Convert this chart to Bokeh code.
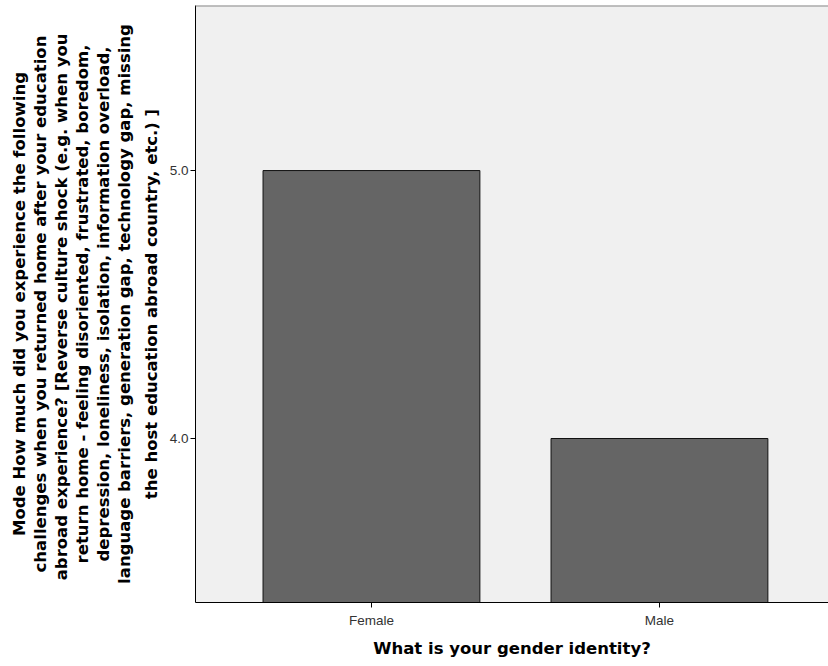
from bokeh.plotting import figure
from bokeh.models import Range1d, FixedTicker, ColumnDataSource, Title, Span
from bokeh.embed import file_html
from bokeh.resources import INLINE

categories = ["Female", "Male"]
values = [5.0, 4.0]
y_ticks = [4.0, 5.0]
y_tick_labels = ["4.0", "5.0"]

x_title = "What is your gender identity?"
y_title_lines = [
    "Mode How much did you experience the following",
    "challenges when you returned home after your education",
    "abroad experience? [Reverse culture shock  (e.g. when you",
    "return home - feeling disoriented, frustrated, boredom,",
    "depression, loneliness, isolation, information overload,",
    "language barriers, generation gap, technology gap, missing",
    "the host education abroad country, etc.) ]",
]

xs = list(range(len(categories)))
src = ColumnDataSource(dict(x=xs, top=values, cat=categories))

p = figure(output_backend="svg", toolbar_location=None,
           frame_width=633, frame_height=597,
           x_range=Range1d(-0.611, 1.587), y_range=Range1d(3.388, 5.616),
           min_border_left=195, min_border_right=0, min_border_top=5,
           min_border_bottom=60)

p.vbar(x="x", top="top", bottom=0, width=0.753, source=src,
       fill_color="#656565", line_color="#111111", line_width=1)

p.background_fill_color = "#f0f0f0"
p.border_fill_color = "white"
p.outline_line_color = None
p.grid.visible = False
p.add_layout(Span(location=p.y_range.end, dimension="width",
                  line_color="#888888", line_width=2))

p.xaxis.ticker = FixedTicker(ticks=xs)
p.xaxis.major_label_overrides = {i: c for i, c in zip(xs, categories)}
p.yaxis.ticker = FixedTicker(ticks=y_ticks)
p.yaxis.major_label_overrides = {t: l for t, l in zip(y_ticks, y_tick_labels)}

for ax in (p.xaxis[0], p.yaxis[0]):
    ax.minor_tick_line_color = None
    ax.major_tick_in = 0
    ax.major_tick_out = 5
    ax.axis_line_color = "black"
    ax.major_tick_line_color = "black"
    ax.major_label_text_font = "Liberation Sans"
    ax.major_label_text_font_size = "13.5px"
    ax.major_label_text_color = "#333333"
    ax.axis_label_text_font = "DejaVu Sans"
    ax.axis_label_text_font_style = "bold"
    ax.axis_label_text_font_size = "16.5px"
    ax.axis_label_text_color = "black"

p.xaxis.axis_label = x_title
p.xaxis.major_label_standoff = 5
p.xaxis.axis_label_standoff = 8
p.yaxis.major_label_standoff = 2

# y-axis title: one centred vertical title per line, innermost (last line) first
for i, line in enumerate(reversed(y_title_lines)):
    t = Title(text=line, align="center", text_font="DejaVu Sans",
              text_font_style="bold", text_font_size="16.5px",
              text_color="black", standoff=0, offset=0)
    if i == 0:
        t.standoff = 12
    p.add_layout(t, "left")

open("out.html", "w").write(file_html(p, INLINE))
